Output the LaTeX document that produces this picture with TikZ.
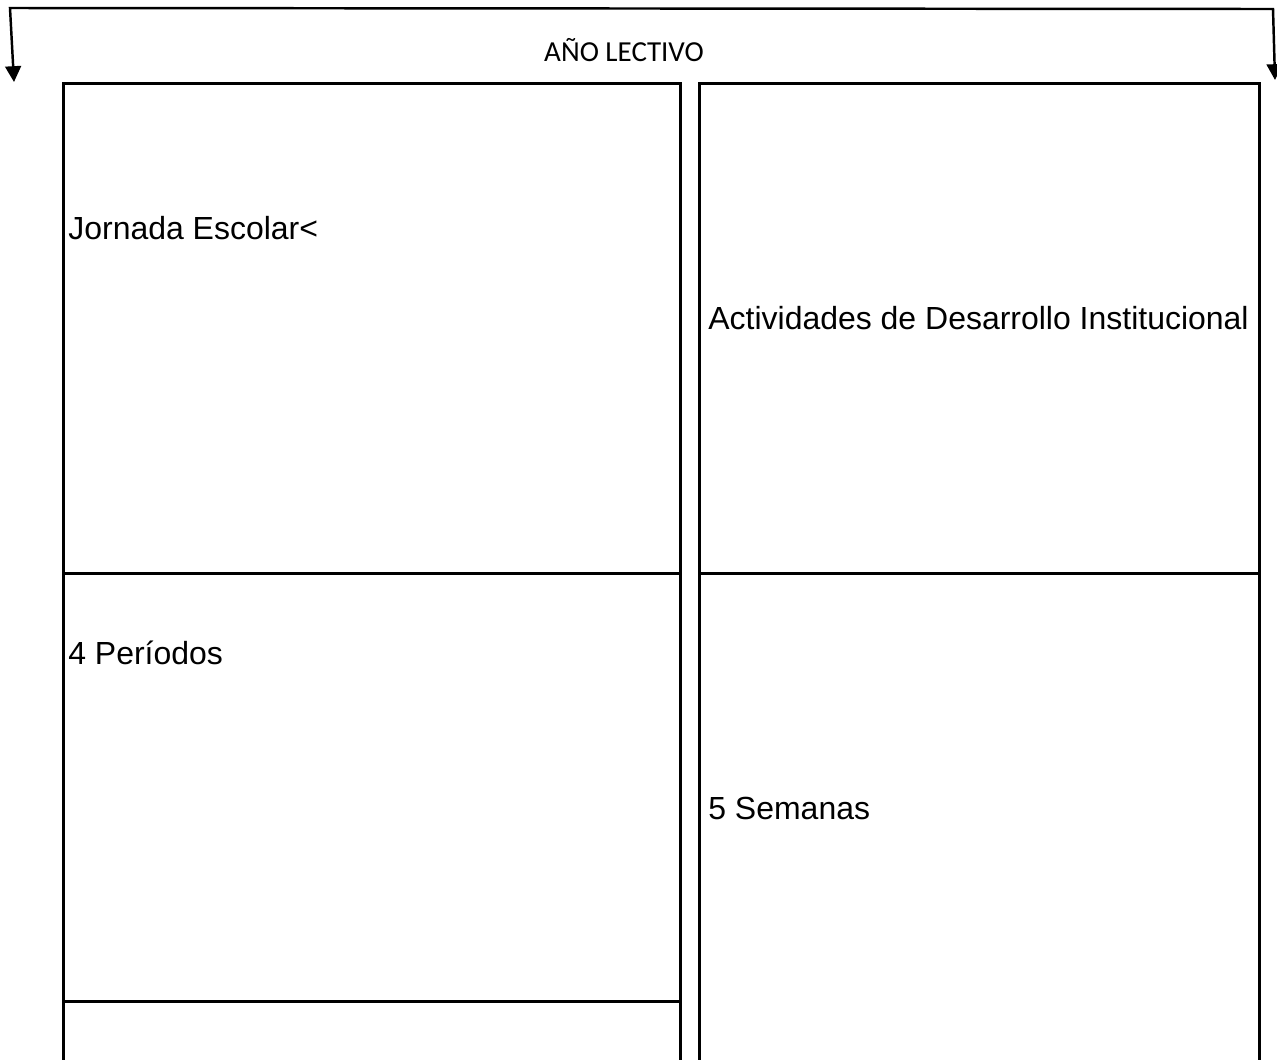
\documentclass[tikz,border=0pt]{standalone}
\usepackage{fontspec}
\setmainfont{Liberation Sans}
\newfontfamily\titlefont{Carlito}
\usetikzlibrary{shapes,arrows,arrows.meta,positioning}
\tikzset{block/.style={draw, 
                       rectangle,
                       line width=1.5pt,
                       inner sep=0pt,
                       anchor=north west},
         boxtext/.style={anchor=west,
                         inner sep=0pt,
                         font=\fontsize{18.2}{21}\selectfont},
         input/.style={coordinate}}
\begin{document}
\begin{tikzpicture}[x=0.02cm,y=-0.02cm,>={Triangle[length=9pt,width=9pt]}]
    \useasboundingbox (0,0) rectangle (1277,1059);
    % We start by placing the blocks
    \node [block, minimum width=617*0.02cm, minimum height=490*0.02cm] (Jornada) at (62,82) {};
    \node [block, minimum width=617*0.02cm, minimum height=428*0.02cm] (Periodos) at (62,572) {};
    \node [block, minimum width=617*0.02cm, minimum height=200*0.02cm] (Resto) at (62,1000) {};
    \node [block, minimum width=560*0.02cm, minimum height=490*0.02cm] (Actividades) at (698,82) {};
    \node [block, minimum width=560*0.02cm, minimum height=600*0.02cm] (Semanas) at (698,572) {};
    % Texts inside the blocks
    \node [boxtext] (tJornada) at (68,228) {Jornada Escolar<};
    \node [boxtext] (tActividades) at (708,318) {Actividades de Desarrollo Institucional};
    \node [boxtext] (tPeriodos) at (68,653) {4 Períodos};
    \node [boxtext] (tSemanas) at (708,808) {5 Semanas};
    % Year bracket with the two arrows
    \node [font=\titlefont\fontsize{16.5}{19}\selectfont] (Anio) at (624,50) {AÑO LECTIVO};
    \node [input, name=left] at (14,82) {};
    \node [input, name=topleft] at (10,8) {};
    \node [input, name=topright] at (1273,9) {};
    \node [input, name=right] at (1275,80) {};
    \draw [<->, line width=1.4pt] (left) -- (topleft) -- (topright) -- (right);
\end{tikzpicture}
\end{document}
